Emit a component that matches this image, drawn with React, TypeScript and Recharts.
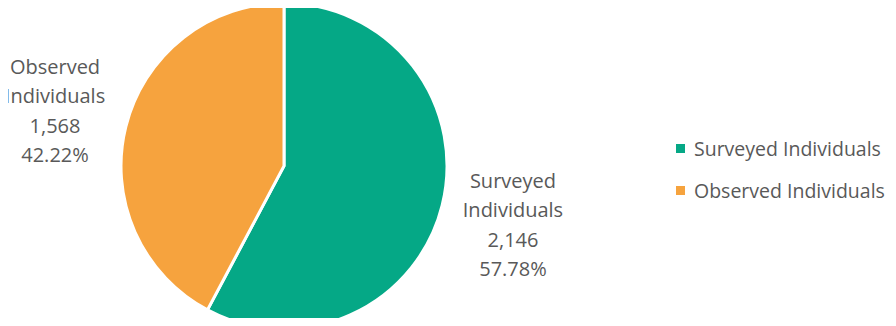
import { PieChart, Pie, Cell, Legend } from 'recharts'

const categories = ['Surveyed Individuals', 'Observed Individuals']
const counts = [2146, 1568]
const percents = ['57.78%', '42.22%']
const colors = ['#05A886', '#F6A33E']

const data = categories.map((name, i) => ({ name, value: counts[i], pct: percents[i] }))

const FONT = '"Open Sans", Lato, sans-serif'
const RAD = Math.PI / 180

function renderLabel(props: any) {
  const { cx, cy, midAngle, outerRadius, index } = props
  const r = outerRadius + 73
  const x = cx + r * Math.cos(-midAngle * RAD)
  const y = cy + r * Math.sin(-midAngle * RAD)
  const words = data[index].name.split(' ')
  const lines = [...words, counts[index].toLocaleString('en-US'), data[index].pct]
  const lh = 29.5
  const top = y - ((lines.length - 1) * lh) / 2 + 1
  return (
    <text
      x={x}
      y={top}
      textAnchor="middle"
      dominantBaseline="central"
      fill="#595959"
      fontSize={20}
      fontFamily={FONT}
    >
      {lines.map((l, i) => (
        <tspan key={i} x={x} y={top + i * lh}>
          {l}
        </tspan>
      ))}
    </text>
  )
}

function LegendBox() {
  return (
    <div
      style={{
        fontFamily: FONT,
        fontSize: 19.5,
        color: '#595959',
        transform: 'translateY(6px)',
      }}
    >
      {data.map((d, i) => (
        <div key={d.name} style={{ display: 'flex', alignItems: 'center', height: 42 }}>
          <span
            style={{
              width: 9,
              height: 9,
              background: colors[i],
              display: 'inline-block',
              marginRight: 9,
              flexShrink: 0,
            }}
          />
          <span style={{ whiteSpace: 'nowrap' }}>{d.name}</span>
        </div>
      ))}
    </div>
  )
}

export default function App() {
  return (
    <div style={{ margin: -8, width: 896, height: 326, overflow: 'hidden', background: '#fff' }}>
      <PieChart width={896} height={326} margin={{ top: 0, right: 0, bottom: 0, left: 0 }}>
        <Pie
          data={data}
          dataKey="value"
          cx={284}
          cy={166}
          outerRadius={163}
          startAngle={90}
          endAngle={-270}
          stroke="#fff"
          strokeWidth={3}
          label={renderLabel}
          labelLine={false}
          isAnimationActive={false}
        >
          {data.map((d, i) => (
            <Cell key={d.name} fill={colors[i]} />
          ))}
        </Pie>
        <Legend
          layout="vertical"
          align="right"
          verticalAlign="middle"
          content={() => <LegendBox />}
          wrapperStyle={{ left: 676, width: 220 }}
        />
      </PieChart>
    </div>
  )
}
